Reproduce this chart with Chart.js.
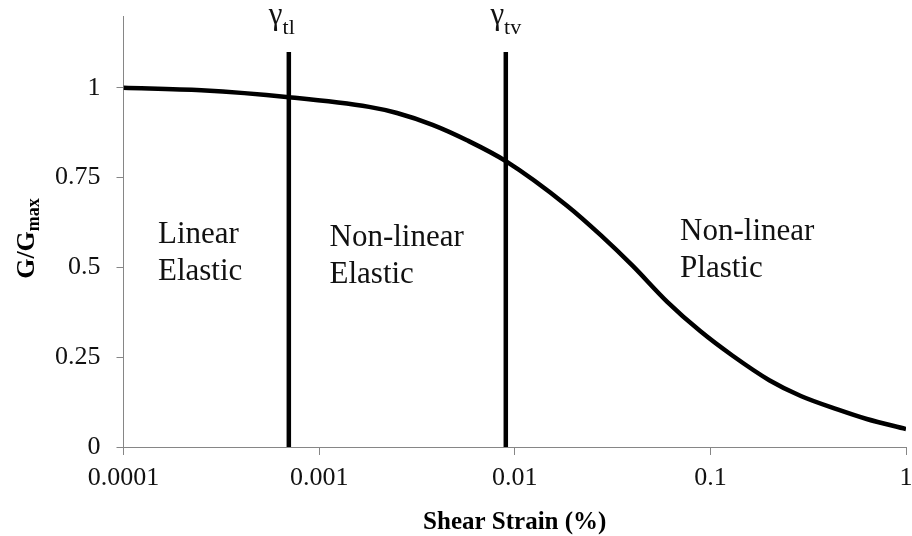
<!DOCTYPE html>
<html>
<head>
<meta charset="utf-8">
<title>Modulus reduction curve</title>
<script src="https://cdn.jsdelivr.net/npm/chart.js@4/dist/chart.umd.min.js"></script>
<style>
  html, body { margin: 0; padding: 0; background: #fff; }
  #wrap { width: 912px; height: 536px; }
</style>
</head>
<body>
<div id="wrap"><canvas id="chart" width="912" height="536"></canvas></div>
<script>
// Shear strain (%) and normalised shear modulus G/Gmax
const strain = [0.0001, 0.00025, 0.0007, 0.0018, 0.0025, 0.0038, 0.0057, 0.009, 0.0185, 0.0275, 0.04, 0.06, 0.089, 0.13, 0.2, 0.29, 0.45, 0.63, 1];
const modulusRatio = [1.0, 0.993, 0.974, 0.947, 0.93, 0.897, 0.854, 0.796, 0.672, 0.59, 0.505, 0.405, 0.322, 0.254, 0.186, 0.142, 0.104, 0.078, 0.05];

// Threshold strains: linear (γtl) and volumetric (γtv)
const thresholdNames = ['tl', 'tv'];
const thresholdStrain = [0.0007, 0.009];
const thresholdHeight = [1.1, 1.1];

// Axis ticks
const xTicks = [0.0001, 0.001, 0.01, 0.1, 1];
const xTickLabels = ['0.0001', '0.001', '0.01', '0.1', '1'];
const yTicks = [0, 0.25, 0.5, 0.75, 1];
const yTickLabels = ['0', '0.25', '0.5', '0.75', '1'];

// Behaviour zones
const zoneLines = [['Linear', 'Elastic'], ['Non-linear', 'Elastic'], ['Non-linear', 'Plastic']];
const zoneStrain = [0.00015, 0.00113, 0.07];
const zoneRatio = [0.567, 0.561, 0.575];

const SERIF = '"Liberation Serif", "Times New Roman", serif';
const AXIS_GREY = '#868686';

const datasets = [{
  label: 'G/Gmax',
  data: strain.map((s, i) => ({ x: s, y: modulusRatio[i] })),
  showLine: true,
  borderColor: '#000',
  borderWidth: 4.5,
  pointRadius: 0,
  cubicInterpolationMode: 'monotone'
}];
thresholdStrain.forEach((s, i) => {
  datasets.push({
    label: 'γ' + thresholdNames[i],
    data: [{ x: s, y: 0 }, { x: s, y: thresholdHeight[i] }],
    showLine: true,
    borderColor: '#000',
    borderWidth: 4.5,
    borderCapStyle: 'butt',
    pointRadius: 0
  });
});

// Draws the zone captions, the threshold symbols and the y-axis title (with subscript)
const annotations = {
  id: 'annotations',
  afterDatasetsDraw(chart) {
    const { ctx, scales: { x, y }, chartArea } = chart;
    ctx.save();
    ctx.fillStyle = '#111';
    ctx.textAlign = 'left';
    ctx.textBaseline = 'alphabetic';

    // zone captions
    ctx.font = '31px ' + SERIF;
    zoneLines.forEach((lines, i) => {
      const px = x.getPixelForValue(zoneStrain[i]);
      const py = y.getPixelForValue(zoneRatio[i]);
      lines.forEach((t, k) => ctx.fillText(t, px, py + k * 37));
    });

    // threshold symbols above each vertical line
    const nudge = [-7, 0];
    thresholdStrain.forEach((s, i) => {
      const lx = x.getPixelForValue(s);
      ctx.font = '31px ' + SERIF;
      const gw = ctx.measureText('γ').width;
      ctx.font = '22px ' + SERIF;
      const sw = ctx.measureText(thresholdNames[i]).width;
      const left = lx + nudge[i] - (gw + sw) / 2;
      ctx.font = '31px ' + SERIF;
      ctx.fillText('γ', left, chartArea.top + 8);
      ctx.font = '22px ' + SERIF;
      ctx.fillText(thresholdNames[i], left + gw, chartArea.top + 18);
    });

    // y-axis title: G/Gmax
    ctx.font = 'bold 26px ' + SERIF;
    const mainW = ctx.measureText('G/G').width;
    ctx.font = 'bold 18px ' + SERIF;
    const subW = ctx.measureText('max').width;
    const cy = (chartArea.top + chartArea.bottom) / 2 + 7;
    ctx.translate(34, cy + (mainW + subW) / 2);
    ctx.rotate(-Math.PI / 2);
    ctx.fillStyle = '#000';
    ctx.font = 'bold 26px ' + SERIF;
    ctx.fillText('G/G', 0, 0);
    ctx.font = 'bold 18px ' + SERIF;
    ctx.fillText('max', mainW, 5);
    ctx.restore();
  }
};

new Chart(document.getElementById('chart'), {
  type: 'scatter',
  data: { datasets },
  options: {
    responsive: false,
    animation: false,
    devicePixelRatio: 1,
    layout: { padding: { left: 39, right: 6, top: 16, bottom: 1 } },
    plugins: { legend: { display: false }, tooltip: { enabled: false } },
    scales: {
      x: {
        type: 'logarithmic',
        min: 0.0001,
        max: 1,
        afterBuildTicks: s => { s.ticks = xTicks.map(v => ({ value: v })); },
        // end labels may overhang the plot edges; the page padding leaves room for them
        afterFit: s => { s.paddingLeft = 0; s.paddingRight = 0; },
        ticks: {
          callback: (v, i) => xTickLabels[i],
          font: { family: SERIF, size: 26, lineHeight: 1 },
          color: '#111',
          padding: 10,
          maxRotation: 0,
          autoSkip: false
        },
        grid: { drawOnChartArea: false, drawTicks: true, tickLength: 8, color: AXIS_GREY, lineWidth: 1 },
        border: { color: AXIS_GREY, width: 1 },
        title: {
          display: true,
          text: 'Shear Strain (%)',
          font: { family: SERIF, size: 25, weight: 'bold', lineHeight: 1 },
          color: '#000',
          padding: { top: 9, bottom: 0 }
        }
      },
      y: {
        type: 'linear',
        min: 0,
        max: 1.2,
        afterBuildTicks: s => { s.ticks = yTicks.map(v => ({ value: v })); },
        afterFit: s => { s.paddingTop = 0; s.paddingBottom = 0; },
        ticks: {
          callback: (v, i) => yTickLabels[i],
          font: { family: SERIF, size: 26 },
          color: '#111',
          padding: 16
        },
        grid: { drawOnChartArea: false, drawTicks: true, tickLength: 7, color: AXIS_GREY, lineWidth: 1 },
        border: { color: AXIS_GREY, width: 1 }
      }
    }
  },
  plugins: [annotations]
});
</script>
</body>
</html>
